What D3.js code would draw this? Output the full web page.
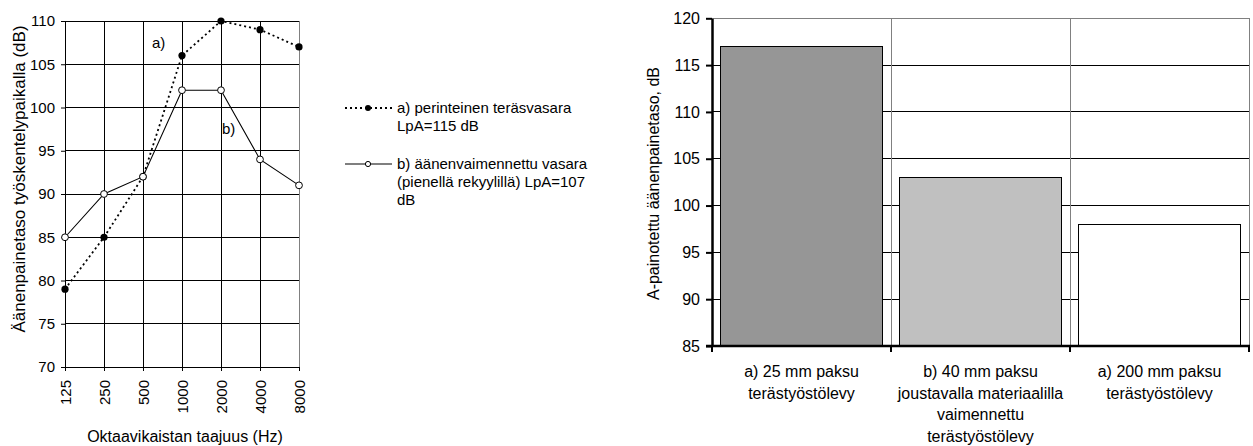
<!DOCTYPE html>
<html>
<head>
<meta charset="utf-8">
<script src="https://cdn.jsdelivr.net/npm/d3@7"></script>
<style>
  html, body { margin: 0; padding: 0; background: #fff; }
  svg { display: block; font-family: "Liberation Sans", Arial, sans-serif; }
</style>
</head>
<body>
<svg id="chart" width="1253" height="446"></svg>
<script>
// ---- Left chart data ----
const frequencies = ["125", "250", "500", "1000", "2000", "4000", "8000"];
const seriesA = [79, 85, 92, 106, 110, 109, 107];   // a) perinteinen teräsvasara
const seriesB = [85, 90, 92, 102, 102, 94, 91];     // b) äänenvaimennettu vasara
const leftTicks = [70, 75, 80, 85, 90, 95, 100, 105, 110];
const legendA = ["a) perinteinen teräsvasara", "LpA=115 dB"];
const legendB = ["b) äänenvaimennettu vasara", "(pienellä rekyylillä) LpA=107", "dB"];
const leftYTitle = "Äänenpainetaso työskentelypaikalla (dB)";
const leftXTitle = "Oktaavikaistan taajuus (Hz)";

// ---- Right chart data ----
const plates = [
  ["a) 25 mm paksu", "terästyöstölevy"],
  ["b) 40 mm paksu", "joustavalla materiaalilla", "vaimennettu", "terästyöstölevy"],
  ["a) 200 mm paksu", "terästyöstölevy"]
];
const plateValues = [117, 103, 98];
const plateColors = ["#969696", "#c0c0c0", "#ffffff"];
const rightTicks = [85, 90, 95, 100, 105, 110, 115, 120];
const rightYTitle = "A-painotettu äänenpainetaso, dB";

const svg = d3.select("#chart");

// ================= LEFT CHART =================
const L = { left: 65, right: 299, top: 21, bottom: 367 };
const xL = d3.scalePoint().domain(frequencies).range([L.left, L.right]).padding(0);
const yL = d3.scaleLinear().domain([70, 110]).range([L.bottom, L.top]);

const gL = svg.append("g");
// horizontal gridlines
gL.selectAll("line.hg").data(leftTicks.filter(d => d > 70 && d < 110)).join("line")
  .attr("x1", L.left).attr("x2", L.right)
  .attr("y1", d => yL(d)).attr("y2", d => yL(d))
  .attr("stroke", "#000").attr("stroke-width", 1).attr("shape-rendering", "crispEdges");
// vertical gridlines
gL.selectAll("line.vg").data(frequencies.slice(1, -1)).join("line")
  .attr("x1", d => xL(d)).attr("x2", d => xL(d))
  .attr("y1", L.top).attr("y2", L.bottom)
  .attr("stroke", "#000").attr("stroke-width", 1).attr("shape-rendering", "crispEdges");
// border top/right
gL.append("line").attr("x1", L.left).attr("x2", L.right).attr("y1", L.top).attr("y2", L.top)
  .attr("stroke", "#000").attr("shape-rendering", "crispEdges");
gL.append("line").attr("x1", L.right).attr("x2", L.right).attr("y1", L.top).attr("y2", L.bottom)
  .attr("stroke", "#808080").attr("shape-rendering", "crispEdges");

// y axis
const yAxisL = gL.append("g").attr("transform", `translate(${L.left},0)`)
  .call(d3.axisLeft(yL).tickValues(leftTicks).tickSize(4).tickPadding(6).tickFormat(d3.format("d")));
yAxisL.select(".domain").attr("stroke", "#000");
yAxisL.selectAll("text").attr("font-size", 15).attr("fill", "#000").attr("font-family", "Liberation Sans, Arial, sans-serif");

// x axis
const xAxisL = gL.append("g").attr("transform", `translate(0,${L.bottom})`)
  .call(d3.axisBottom(xL).tickSize(4).tickSizeOuter(0));
xAxisL.select(".domain").attr("stroke", "#000");
xAxisL.selectAll("text")
  .attr("font-size", 15).attr("fill", "#000").attr("font-family", "Liberation Sans, Arial, sans-serif")
  .attr("transform", "rotate(-90)")
  .attr("text-anchor", "end")
  .attr("x", -13).attr("y", 0).attr("dy", "0.35em");

// lines
const lineGen = d3.line().x((d, i) => xL(frequencies[i])).y(d => yL(d));
gL.append("path").datum(seriesA).attr("d", lineGen)
  .attr("fill", "none").attr("stroke", "#000").attr("stroke-width", 1.8).attr("stroke-dasharray", "2,3");
gL.append("path").datum(seriesB).attr("d", lineGen)
  .attr("fill", "none").attr("stroke", "#000").attr("stroke-width", 1.1);
gL.selectAll("circle.a").data(seriesA).join("circle")
  .attr("cx", (d, i) => xL(frequencies[i])).attr("cy", d => yL(d)).attr("r", 3.6)
  .attr("fill", "#000");
gL.selectAll("circle.b").data(seriesB).join("circle")
  .attr("cx", (d, i) => xL(frequencies[i])).attr("cy", d => yL(d)).attr("r", 3.4)
  .attr("fill", "#fff").attr("stroke", "#000").attr("stroke-width", 1);

// in-plot labels
gL.append("text").attr("x", xL("500") + 9).attr("y", yL(107.5) + 5).text("a)")
  .attr("font-size", 15);
gL.append("text").attr("x", xL("2000") + 1).attr("y", yL(97.5) + 5).text("b)")
  .attr("font-size", 15);

// axis titles
gL.append("text").attr("transform", `translate(25,179) rotate(-90)`)
  .attr("text-anchor", "middle").attr("font-size", 17).text(leftYTitle);
gL.append("text").attr("x", 185).attr("y", 442)
  .attr("text-anchor", "middle").attr("font-size", 16).text(leftXTitle);

// legend
const leg = svg.append("g");
const legX1 = 345, legX2 = 392, legTx = 397;
leg.append("line").attr("x1", legX1).attr("x2", legX2).attr("y1", 108).attr("y2", 108)
  .attr("stroke", "#000").attr("stroke-width", 1.8).attr("stroke-dasharray", "2,3");
leg.append("circle").attr("cx", 368).attr("cy", 108).attr("r", 3).attr("fill", "#000");
leg.append("text").attr("x", legTx).attr("y", 113).attr("font-size", 15)
  .selectAll("tspan").data(legendA).join("tspan")
  .attr("x", legTx).attr("dy", (d, i) => i === 0 ? 0 : 17.5).text(d => d);
leg.append("line").attr("x1", legX1).attr("x2", legX2).attr("y1", 164).attr("y2", 164)
  .attr("stroke", "#000").attr("stroke-width", 1.1);
leg.append("circle").attr("cx", 368).attr("cy", 164).attr("r", 2.6)
  .attr("fill", "#fff").attr("stroke", "#000");
leg.append("text").attr("x", legTx).attr("y", 169).attr("font-size", 15)
  .selectAll("tspan").data(legendB).join("tspan")
  .attr("x", legTx).attr("dy", (d, i) => i === 0 ? 0 : 17.8).text(d => d);

// ================= RIGHT CHART =================
const R = { left: 712, right: 1249, top: 18.3, bottom: 346 };
const keys = plates.map((d, i) => i);
const xR = d3.scaleBand().domain(keys).range([R.left, R.right]).paddingInner(0.095).paddingOuter(0.0475);
const xRb = d3.scaleBand().domain(keys).range([R.left, R.right]).padding(0);
const yR = d3.scaleLinear().domain([85, 120]).range([R.bottom, R.top]);

const gR = svg.append("g");
gR.selectAll("line.hg").data(rightTicks.filter(d => d > 85 && d < 120)).join("line")
  .attr("x1", R.left).attr("x2", R.right)
  .attr("y1", d => yR(d)).attr("y2", d => yR(d))
  .attr("stroke", "#000").attr("shape-rendering", "crispEdges");
gR.append("line").attr("x1", R.left).attr("x2", R.right).attr("y1", yR(120)).attr("y2", yR(120))
  .attr("stroke", "#808080").attr("shape-rendering", "crispEdges");
gR.selectAll("line.vg").data(keys.slice(1).concat(["end"])).join("line")
  .attr("x1", d => d === "end" ? R.right : xRb(d)).attr("x2", d => d === "end" ? R.right : xRb(d))
  .attr("y1", R.top).attr("y2", R.bottom)
  .attr("stroke", "#808080").attr("shape-rendering", "crispEdges");

gR.selectAll("rect.bar").data(plateValues).join("rect")
  .attr("x", (d, i) => xR(i)).attr("width", xR.bandwidth())
  .attr("y", d => yR(d)).attr("height", d => yR(85) - yR(d))
  .attr("fill", (d, i) => plateColors[i]).attr("stroke", "#000").attr("stroke-width", 1)
  .attr("shape-rendering", "crispEdges");

// y axis
const yAxisR = gR.append("g").attr("transform", `translate(${R.left},0)`)
  .call(d3.axisLeft(yR).tickValues(rightTicks).tickSize(6).tickSizeOuter(0).tickPadding(6).tickFormat(d3.format("d")));
yAxisR.select(".domain").attr("stroke", "#000").attr("stroke-width", 2.5);
yAxisR.selectAll(".tick line").attr("stroke-width", 2);
yAxisR.selectAll("text").attr("font-size", 16).attr("fill", "#000").attr("font-family", "Liberation Sans, Arial, sans-serif");

// x axis
const boundaries = [R.left].concat(keys.map(k => xRb(k) + xRb.bandwidth()));
gR.append("line").attr("x1", R.left - 6).attr("x2", R.right + 1).attr("y1", R.bottom).attr("y2", R.bottom)
  .attr("stroke", "#000").attr("stroke-width", 2.5);
gR.selectAll("line.xt").data(boundaries).join("line")
  .attr("x1", d => d).attr("x2", d => d).attr("y1", R.bottom).attr("y2", R.bottom + 6)
  .attr("stroke", "#000").attr("stroke-width", 2);

// category labels
gR.selectAll("text.cat").data(plates).join("text")
  .attr("text-anchor", "middle").attr("font-size", 16)
  .attr("transform", (d, i) => `translate(${xRb(i) + xRb.bandwidth() / 2},377)`)
  .selectAll("tspan").data(d => d).join("tspan")
  .attr("x", 0).attr("dy", (d, i) => i === 0 ? 0 : 21.6).text(d => d);

gR.append("text").attr("transform", `translate(659,183.5) rotate(-90)`)
  .attr("text-anchor", "middle").attr("font-size", 16).text(rightYTitle);
</script>
</body>
</html>
